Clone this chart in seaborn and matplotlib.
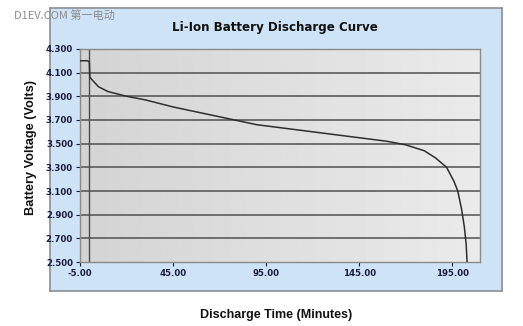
import matplotlib
matplotlib.use("Agg")
import matplotlib.pyplot as plt
import numpy as np
import pandas as pd
import seaborn as sns

# discharge curve
time_min = [-5, -1, 0, 0.3, 2, 5, 10, 20, 30, 45, 60, 75, 90, 105, 120,
            135, 150, 160, 170, 180, 186, 192, 196, 198, 200, 201.5, 202.5, 203]
voltage = [4.20, 4.20, 4.19, 4.06, 4.03, 3.98, 3.94, 3.90, 3.87, 3.81, 3.76,
           3.71, 3.66, 3.63, 3.60, 3.57, 3.54, 3.52, 3.49, 3.44, 3.38, 3.30,
           3.18, 3.10, 2.95, 2.80, 2.65, 2.50]
x_ticks = [-5, 45, 95, 145, 195]
y_ticks = [2.5, 2.7, 2.9, 3.1, 3.3, 3.5, 3.7, 3.9, 4.1, 4.3]

df = pd.DataFrame({"time": time_min, "volts": voltage})

sns.set_theme(style="white")
plt.rcParams["font.family"] = ["Liberation Sans", "DejaVu Sans"]

fig = plt.figure(figsize=(5.23, 3.26), dpi=100)
fig.patch.set_facecolor("white")

# light blue chart panel behind the axes
panel = fig.add_axes([0.0956, 0.107, 0.864, 0.868], zorder=-5)
panel.set_facecolor("#cfe3f6")
panel.set_xticks([])
panel.set_yticks([])
for sp in panel.spines.values():
    sp.set_color("#8a8f96")
    sp.set_linewidth(1.2)

ax = fig.add_axes([0.153, 0.196, 0.765, 0.654])
ax.set_xlim(-5, 210)
ax.set_ylim(2.5, 4.3)

# gray gradient background of plot area
grad = np.linspace(0.83, 0.92, 256).reshape(1, -1)
ax.imshow(grad, extent=[-5, 210, 2.5, 4.3], aspect="auto", cmap="gray",
          vmin=0, vmax=1, zorder=0)

for y in y_ticks[1:-1]:
    ax.axhline(y, color="#505050", lw=1.1, zorder=1)
ax.axvline(0, color="#4a4a4a", lw=1.0, zorder=1)

sns.lineplot(data=df, x="time", y="volts", ax=ax, color="#2e2e2e", lw=1.1, zorder=3)

ax.set_xticks(x_ticks)
ax.set_xticklabels([f"{v:.2f}" for v in x_ticks])
ax.set_yticks(y_ticks)
ax.set_yticklabels([f"{v:.3f}" for v in y_ticks])
ax.tick_params(axis="both", labelsize=6.2, colors="#1c1c3c", length=3, width=0.8,
               direction="out", bottom=True, left=True, pad=2)
for lab in ax.get_xticklabels() + ax.get_yticklabels():
    lab.set_fontweight("bold")
    lab.set_family("DejaVu Sans")
ax.set_xlabel("")
ax.set_ylabel("")
for name, sp in ax.spines.items():
    sp.set_color("#8a8a8a")
    sp.set_linewidth(1.0)

fig.text(0.525, 0.917, "Li-Ion Battery Discharge Curve", ha="center", va="center",
         fontsize=8.6, fontweight="bold", color="#111111", family="DejaVu Sans")
fig.text(0.528, 0.034, "Discharge Time (Minutes)", ha="center", va="center",
         fontsize=9, fontweight="bold", color="#111111")
fig.text(0.060, 0.547, "Battery Voltage (Volts)", ha="center", va="center",
         rotation=90, fontsize=9.2, fontweight="bold", color="#111111")
fig.text(0.027, 0.953, "D1EV.COM 第一电动", ha="left", va="center", fontsize=8,
         color="#8a8a8a", family=["Noto Sans CJK SC", "DejaVu Sans"])

fig.savefig("out.png", dpi=100)
